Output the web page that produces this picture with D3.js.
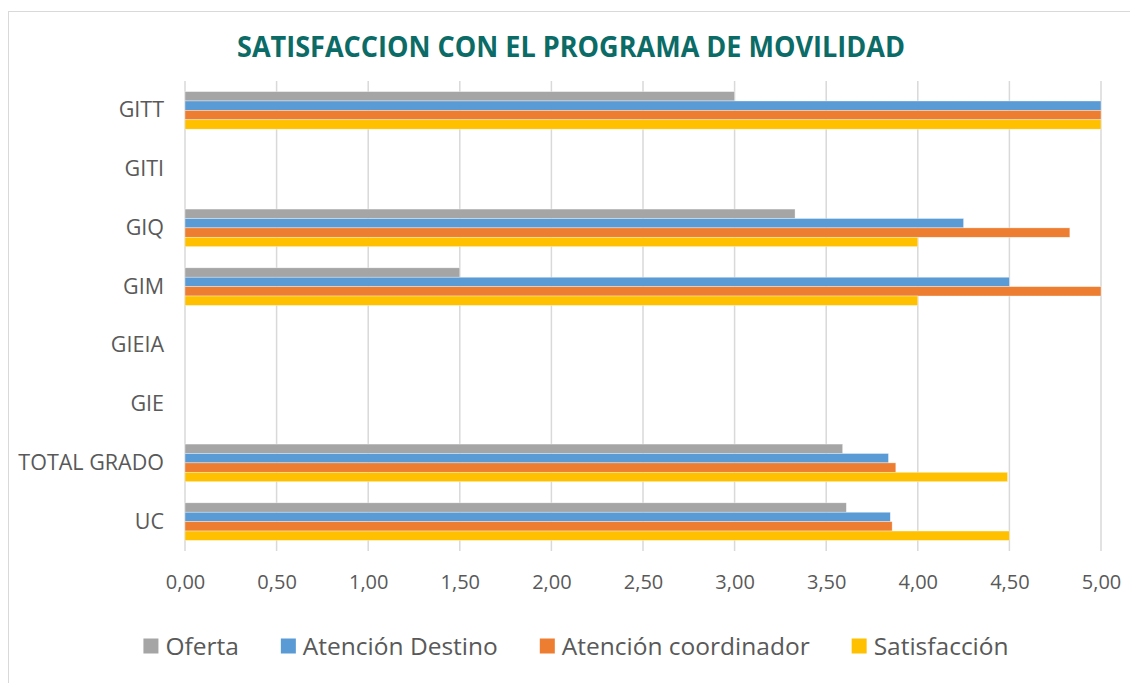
<!DOCTYPE html>
<html>
<head>
<meta charset="utf-8">
<script src="https://cdn.jsdelivr.net/npm/d3@7"></script>
<style>
  body { margin: 0; background: #fff; }
  text { font-family: "Open Sans", sans-serif; }
</style>
</head>
<body>
<div id="viz"></div>
<script>
// categories top to bottom
const categories = ['GITT', 'GITI', 'GIQ', 'GIM', 'GIEIA', 'GIE', 'TOTAL GRADO', 'UC']
const seriesNames = ['Oferta', 'Atención Destino', 'Atención coordinador', 'Satisfacción']

// values per series (null = no data)
const oferta        = [3.00, null, 3.33, 1.50, null, null, 3.59, 3.61]
const atnDestino    = [5.00, null, 4.25, 4.50, null, null, 3.84, 3.85]
const atnCoord      = [5.00, null, 4.83, 5.00, null, null, 3.88, 3.86]
const satisfaccion  = [5.00, null, 4.00, 4.00, null, null, 4.49, 4.50]

const xTicks = [0, 0.5, 1, 1.5, 2, 2.5, 3, 3.5, 4, 4.5, 5]

const colors = ['#A5A5A5', '#5B9BD5', '#ED7D31', '#FFC000']

let width = 1130,
    height = 683;

let plot = {left: 185, right: 1101, top: 81, bottom: 551}

const seriesValues = [oferta, atnDestino, atnCoord, satisfaccion]
const data = []
categories.forEach((c, i) => {
  seriesValues.forEach((vals, s) => {
    if (vals[i] !== null) data.push({cat: c, series: seriesNames[s], value: vals[i], idx: s})
  })
})

let svg = d3.select('#viz')
            .append('svg')
            .attr('width', width)
            .attr('height', height)

// chart frame
svg.append('rect')
   .attr('x', 8.5)
   .attr('y', 11.5)
   .attr('width', 1200)
   .attr('height', 1000)
   .style('fill', 'none')
   .style('stroke', '#D9D9D9')

let xScale = d3.scaleLinear()
               .domain([0, 5])
               .range([plot.left, plot.right])

let yScale = d3.scaleBand()
               .domain(categories)
               .paddingInner(0.36)
               .paddingOuter(0.18)
               .range([plot.top, plot.bottom])

let ySub = d3.scaleBand()
             .domain(seriesNames)
             .range([0, yScale.bandwidth()])

// gridlines
svg.append('g')
   .selectAll('line')
   .data(xTicks)
   .enter()
     .append('line')
     .attr('x1', d => xScale(d))
     .attr('x2', d => xScale(d))
     .attr('y1', plot.top)
     .attr('y2', plot.bottom)
     .style('stroke', '#D9D9D9')
     .style('stroke-width', 1.5)

// bars
svg.append('g')
   .selectAll('rect')
   .data(data)
   .enter()
     .append('rect')
     .attr('x', xScale(0))
     .attr('y', d => yScale(d.cat) + ySub(d.series))
     .attr('width', d => xScale(d.value) - xScale(0))
     .attr('height', ySub.bandwidth())
     .style('fill', d => colors[d.idx])
     .style('stroke', '#fff')
     .style('stroke-width', 0.6)
     .style('stroke-opacity', 0.6)

// x axis labels
const fmt = d => d3.format('.2f')(d).replace('.', ',')
let xAxis = d3.axisBottom(xScale)
              .tickValues(xTicks)
              .tickFormat(fmt)
              .tickSize(0)
              .tickPadding(24)
svg.append('g')
   .attr('transform', `translate(0,${plot.bottom})`)
   .call(xAxis)
   .call(g => g.select('.domain').remove())
   .selectAll('text')
     .style('font-size', '20px')
     .style('fill', '#595959')
     .style('font-family', '"Open Sans", sans-serif')

// y axis labels
let yAxis = d3.axisLeft(yScale)
              .tickSize(0)
              .tickPadding(21)
svg.append('g')
   .attr('transform', `translate(${plot.left},0)`)
   .call(yAxis)
   .call(g => g.select('.domain').remove())
   .selectAll('text')
     .style('font-size', '21.5px')
     .style('fill', '#595959')
     .style('font-family', '"Open Sans", sans-serif')

// title
svg.append('text')
   .attr('x', 571)
   .attr('y', 57)
   .attr('text-anchor', 'middle')
   .attr('textLength', 668)
   .attr('lengthAdjust', 'spacingAndGlyphs')
   .style('font-size', '29px')
   .style('font-weight', 'bold')
   .style('fill', '#0B6B66')
   .text('SATISFACCION CON EL PROGRAMA DE MOVILIDAD')

// legend
let legend = svg.append('g')
let lx = 0
seriesNames.forEach((name, i) => {
  let g = legend.append('g')
  g.append('rect')
   .attr('x', 0)
   .attr('y', -7.5)
   .attr('width', 15)
   .attr('height', 15)
   .style('fill', colors[i])
  let t = g.append('text')
   .attr('x', 22)
   .attr('y', 8.5)
   .style('font-size', '24.5px')
   .style('fill', '#595959')
   .text(name)
  let w = 22 + t.node().getComputedTextLength()
  g.attr('transform', `translate(${lx},0)`)
  lx += w + 42
})
let legendWidth = lx - 42
legend.attr('transform', `translate(${576 - legendWidth / 2},646)`)
</script>
</body>
</html>
